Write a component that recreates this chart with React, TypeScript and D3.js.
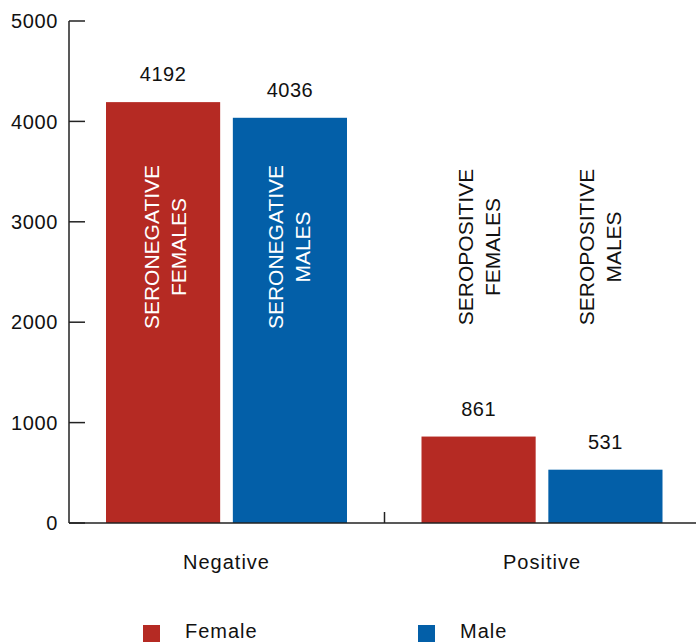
import * as d3 from "d3"

const groups = ["Negative", "Positive"]
const sexes = ["Female", "Male"]
const femaleValues = [4192, 861]
const maleValues = [4036, 531]
const yTicks = [0, 1000, 2000, 3000, 4000, 5000]
const barLabels = [
  ["SERONEGATIVE", "FEMALES"],
  ["SERONEGATIVE", "MALES"],
  ["SEROPOSITIVE", "FEMALES"],
  ["SEROPOSITIVE", "MALES"],
]

const WIDTH = 696
const HEIGHT = 643
const COLORS: Record<string, string> = { Female: "#b52a23", Male: "#035fa8" }
const FONT = "'Liberation Sans', Arial, Helvetica, sans-serif"
// small nudges of the rotated labels, as in the original
const LABEL_DX = [2, -1, 0, -5]

export default function App() {
  const x0 = 69
  const yBase = 523

  const xGroup = d3.scaleBand().domain(groups).range([x0, 700]).padding(0)
  const xSex = d3
    .scaleBand()
    .domain(sexes)
    .range([37, 278])
    .paddingInner(0.1)
    .paddingOuter(0)
  const y = d3.scaleLinear().domain([0, 5000]).range([yBase, 21])

  const bars = groups.flatMap((g, gi) =>
    sexes.map((s) => ({
      group: g,
      sex: s,
      value: s === "Female" ? femaleValues[gi] : maleValues[gi],
    }))
  )

  return (
    <div style={{ position: "absolute", left: 0, top: 0 }}>
      <svg width={WIDTH} height={HEIGHT} style={{ display: "block", fontFamily: FONT }}>
        {bars.map((d, i) => {
          const bx = xGroup(d.group)! + xSex(d.sex)!
          const bw = xSex.bandwidth()
          const top = y(d.value)
          const cx = bx + bw / 2
          const inside = d.group === "Negative"
          const lines = barLabels[i]
          return (
            <g key={i}>
              <rect x={bx} y={top} width={bw} height={yBase - top} fill={COLORS[d.sex]} />
              <text
                x={cx}
                y={top - 21}
                textAnchor="middle"
                fontSize={20}
                letterSpacing={0.5}
                fill="#111"
              >
                {d.value}
              </text>
              <g transform={`translate(${cx + LABEL_DX[i]},247) rotate(-90)`}>
                {lines.map((t, li) => (
                  <text
                    key={li}
                    x={0}
                    y={(li - 0.5) * 27 + 7.5}
                    textAnchor="middle"
                    fontSize={21}
                    fill={inside ? "#fff" : "#111"}
                  >
                    {t}
                  </text>
                ))}
              </g>
            </g>
          )
        })}

        {/* y axis */}
        <line x1={x0} x2={x0} y1={y(5000)} y2={yBase} stroke="#222" strokeWidth={1.5} />
        {yTicks.map((t) => (
          <g key={t}>
            <line x1={x0} x2={x0 + 16} y1={y(t)} y2={y(t)} stroke="#222" strokeWidth={1.5} />
            <text
              x={58}
              y={y(t)}
              dy="0.36em"
              textAnchor="end"
              fontSize={20}
              letterSpacing={0.6}
              fill="#111"
            >
              {t}
            </text>
          </g>
        ))}

        {/* x axis */}
        <line x1={x0} x2={WIDTH} y1={yBase} y2={yBase} stroke="#222" strokeWidth={1.5} />
        <line
          x1={xGroup("Positive")!}
          x2={xGroup("Positive")!}
          y1={yBase}
          y2={yBase - 11}
          stroke="#222"
          strokeWidth={1.5}
        />
        {groups.map((g) => (
          <text
            key={g}
            x={xGroup(g)! + (37 + 278) / 2}
            y={569}
            textAnchor="middle"
            fontSize={20}
            letterSpacing={1}
            fill="#111"
          >
            {g}
          </text>
        ))}

        {/* legend */}
        {sexes.map((s, i) => {
          const lx = [143, 418][i]
          return (
            <g key={s}>
              <rect x={lx} y={625} width={17} height={17} fill={COLORS[s]} />
              <text x={lx + 42} y={638} fontSize={20} letterSpacing={1} fill="#111">
                {s}
              </text>
            </g>
          )
        })}
      </svg>
    </div>
  )
}
